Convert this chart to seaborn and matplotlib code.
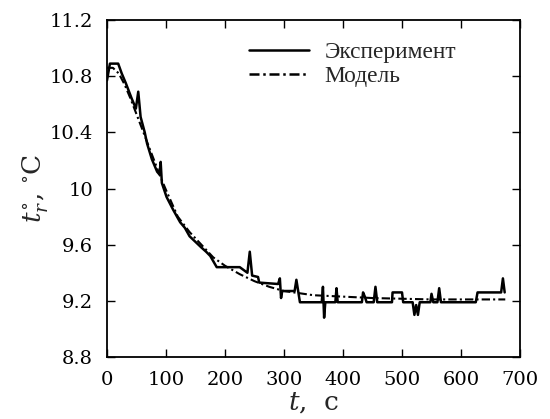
import matplotlib
matplotlib.use("Agg")
import matplotlib.pyplot as plt
import pandas as pd
import seaborn as sns

exp_t = [0, 5, 19, 25, 32, 42, 49, 53, 57, 64, 68, 76, 85, 89, 91, 93, 101, 112,
         124, 132, 140, 150, 160, 168, 175, 186, 225, 238, 242, 246, 256, 258,
         290, 293, 295, 297, 318, 321, 324, 327, 364, 366, 368, 370, 387, 389,
         391, 432, 434, 437, 440, 452, 455, 458, 483, 484, 500, 502, 518, 521,
         524, 527, 530, 548, 550, 553, 560, 563, 566, 625, 628, 668, 671, 674]
exp_v = [10.77, 10.89, 10.89, 10.82, 10.75, 10.64, 10.57, 10.69, 10.51, 10.40,
         10.32, 10.21, 10.12, 10.10, 10.19, 10.04, 9.94, 9.85, 9.76, 9.72, 9.66,
         9.62, 9.58, 9.55, 9.52, 9.44, 9.44, 9.40, 9.55, 9.38, 9.37, 9.33, 9.32,
         9.36, 9.22, 9.27, 9.27, 9.35, 9.27, 9.19, 9.19, 9.30, 9.08, 9.19, 9.19,
         9.29, 9.19, 9.19, 9.26, 9.23, 9.19, 9.19, 9.30, 9.19, 9.19, 9.26, 9.26,
         9.19, 9.19, 9.10, 9.17, 9.10, 9.19, 9.19, 9.25, 9.19, 9.19, 9.29, 9.19,
         9.19, 9.26, 9.26, 9.36, 9.26]

# model
mod_t = [0, 10, 20, 30, 40, 50, 60, 70, 80, 90, 100, 120, 140, 160, 180, 200,
         225, 250, 275, 300, 350, 400, 450, 500, 550, 600, 650, 675]
mod_v = [10.86, 10.86, 10.82, 10.74, 10.64, 10.53, 10.42, 10.31, 10.20, 10.09,
         9.99, 9.80, 9.69, 9.60, 9.51, 9.45, 9.39, 9.34, 9.30, 9.27, 9.24, 9.23,
         9.22, 9.215, 9.21, 9.21, 9.21, 9.21]

labels = ["Эксперимент", "Модель"]
x_ticks = [0, 100, 200, 300, 400, 500, 600, 700]
y_ticks = [8.8, 9.2, 9.6, 10.0, 10.4, 10.8, 11.2]
y_ticklabels = ["8.8", "9.2", "9.6", "10", "10.4", "10.8", "11.2"]

sns.set_theme(style="ticks")
plt.rcParams["font.family"] = ["DejaVu Serif"]
plt.rcParams["mathtext.fontset"] = "dejavuserif"

df_exp = pd.DataFrame({"t": exp_t, "v": exp_v})
df_mod = pd.DataFrame({"t": mod_t, "v": mod_v})

fig = plt.figure(figsize=(5.5, 4.19), dpi=100)
ax = fig.add_axes([0.1945, 0.148, 0.751, 0.804])

sns.lineplot(data=df_exp, x="t", y="v", ax=ax, color="black", linewidth=1.8,
             estimator=None, sort=False, label=labels[0])
sns.lineplot(data=df_mod, x="t", y="v", ax=ax, color="black", linewidth=1.5,
             estimator=None, sort=False, label=labels[1])
ax.lines[1].set_dashes([4, 1.5, 1, 1.5])

ax.set_xlim(0, 700)
ax.set_ylim(8.8, 11.2)
ax.set_xticks(x_ticks)
ax.set_yticks(y_ticks)
ax.set_yticklabels(y_ticklabels)
ax.tick_params(direction="in", length=6, width=1, labelsize=14,
               top=True, right=True, colors="black", pad=10)
for s in ax.spines.values():
    s.set_linewidth(1.3)
    s.set_color("black")

ax.set_xlabel(r"$t$,  с", fontsize=19, labelpad=1)
ax.set_ylabel(r"$t^{\circ}_{r}$, $^{\circ}$С", fontsize=19, labelpad=0)

leg = ax.legend(loc="upper right", frameon=False, handlelength=2.6,
                handletextpad=0.65, borderpad=0.2,
                prop={"family": "Liberation Serif", "size": 16.8},
                bbox_to_anchor=(0.885, 0.985), labelspacing=0.12)
for h in leg.get_lines():
    h.set_linewidth(1.8)

fig.savefig("out.png", dpi=100)
